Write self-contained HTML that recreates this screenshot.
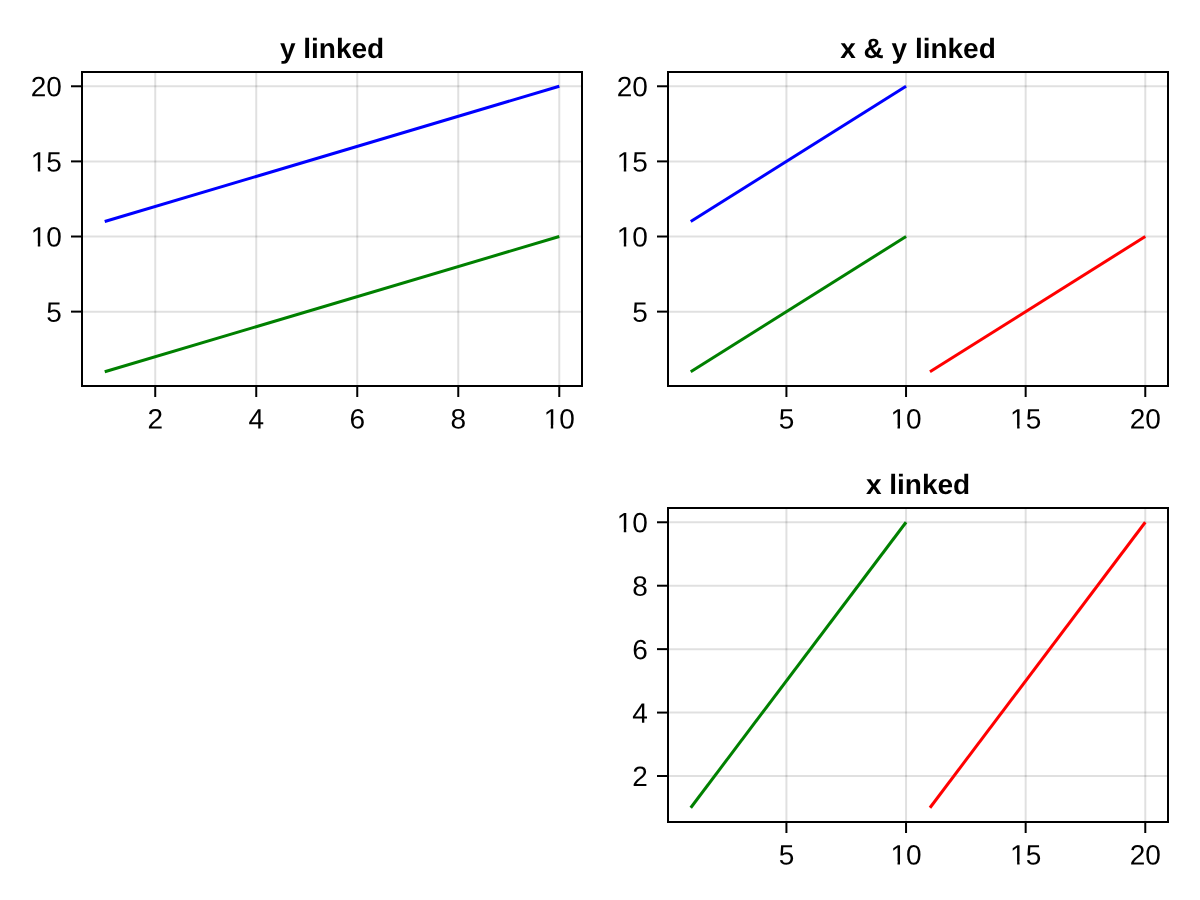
<!DOCTYPE html>
<html lang="en">
<head>
<meta charset="utf-8">
<title>Linked axes</title>
<style>
html,body{margin:0;padding:0;background:#fff;}
body{width:1200px;height:900px;overflow:hidden;}
svg{display:block;will-change:transform;}
.g{stroke:#000;stroke-opacity:0.12;stroke-width:2;}
.t{stroke:#000;stroke-width:2;}
.s{fill:none;stroke:#000;stroke-width:2;}
.l{font-family:"Liberation Sans", sans-serif;font-size:28px;fill:#000;text-rendering:geometricPrecision;}
.ti{font-family:"Liberation Sans", sans-serif;font-size:28px;font-weight:bold;fill:#000;text-rendering:geometricPrecision;}
</style>
</head>
<body>
<svg width="1200" height="900" viewBox="0 0 1200 900">
<defs>
<clipPath id="c1e" clipPathUnits="userSpaceOnUse"><path clip-rule="evenodd" d="M-60 -40H60V20H-60Z M-30.871 -3.092H-24.104V1.5H-30.871Z M-21.629 -3.092H-16.242V1.5H-21.629Z"/></clipPath>
<clipPath id="c1m" clipPathUnits="userSpaceOnUse"><path clip-rule="evenodd" d="M-60 -40H60V20H-60Z M-15.299 -3.092H-8.531V1.5H-15.299Z M-6.057 -3.092H-0.67V1.5H-6.057Z"/></clipPath>
</defs>
<rect x="0" y="0" width="1200" height="900" fill="#ffffff"/>
<g id="axis-y-linked">
<line x1="155.23" y1="72" x2="155.23" y2="386" class="g"/>
<line x1="256.24" y1="72" x2="256.24" y2="386" class="g"/>
<line x1="357.25" y1="72" x2="357.25" y2="386" class="g"/>
<line x1="458.26" y1="72" x2="458.26" y2="386" class="g"/>
<line x1="559.27" y1="72" x2="559.27" y2="386" class="g"/>
<line x1="82" y1="311.63" x2="582" y2="311.63" class="g"/>
<line x1="82" y1="236.51" x2="582" y2="236.51" class="g"/>
<line x1="82" y1="161.39" x2="582" y2="161.39" class="g"/>
<line x1="82" y1="86.27" x2="582" y2="86.27" class="g"/>
<line x1="104.73" y1="371.73" x2="559.27" y2="236.51" stroke="#008000" stroke-width="3"/>
<line x1="104.73" y1="221.49" x2="559.27" y2="86.27" stroke="#0000ff" stroke-width="3"/>
<line x1="155.23" y1="386" x2="155.23" y2="397" class="t"/>
<text transform="translate(155.23 428.45) rotate(0.05)" class="l" text-anchor="middle">2</text>
<line x1="256.24" y1="386" x2="256.24" y2="397" class="t"/>
<text transform="translate(256.24 428.45) rotate(0.05)" class="l" text-anchor="middle">4</text>
<line x1="357.25" y1="386" x2="357.25" y2="397" class="t"/>
<text transform="translate(357.25 428.45) rotate(0.05)" class="l" text-anchor="middle">6</text>
<line x1="458.26" y1="386" x2="458.26" y2="397" class="t"/>
<text transform="translate(458.26 428.45) rotate(0.05)" class="l" text-anchor="middle">8</text>
<line x1="559.27" y1="386" x2="559.27" y2="397" class="t"/>
<text transform="translate(559.27 428.45) rotate(0.05)" class="l" text-anchor="middle" clip-path="url(#c1m)">10</text>
<line x1="71" y1="311.63" x2="82" y2="311.63" class="t"/>
<text transform="translate(61.9 321.73) rotate(0.05)" class="l" text-anchor="end">5</text>
<line x1="71" y1="236.51" x2="82" y2="236.51" class="t"/>
<text transform="translate(61.9 246.61) rotate(0.05)" class="l" text-anchor="end" clip-path="url(#c1e)">10</text>
<line x1="71" y1="161.39" x2="82" y2="161.39" class="t"/>
<text transform="translate(61.9 171.49) rotate(0.05)" class="l" text-anchor="end" clip-path="url(#c1e)">15</text>
<line x1="71" y1="86.27" x2="82" y2="86.27" class="t"/>
<text transform="translate(61.9 96.37) rotate(0.05)" class="l" text-anchor="end">20</text>
<rect x="82" y="72" width="500" height="314" class="s"/>
<text transform="translate(332 58) rotate(0.05)" class="ti" text-anchor="middle">y linked</text>
</g>
<g id="axis-xy-linked">
<line x1="786.42" y1="72" x2="786.42" y2="386" class="g"/>
<line x1="906.04" y1="72" x2="906.04" y2="386" class="g"/>
<line x1="1025.66" y1="72" x2="1025.66" y2="386" class="g"/>
<line x1="1145.27" y1="72" x2="1145.27" y2="386" class="g"/>
<line x1="668" y1="311.63" x2="1168" y2="311.63" class="g"/>
<line x1="668" y1="236.51" x2="1168" y2="236.51" class="g"/>
<line x1="668" y1="161.39" x2="1168" y2="161.39" class="g"/>
<line x1="668" y1="86.27" x2="1168" y2="86.27" class="g"/>
<line x1="690.73" y1="371.73" x2="906.04" y2="236.51" stroke="#008000" stroke-width="3"/>
<line x1="690.73" y1="221.49" x2="906.04" y2="86.27" stroke="#0000ff" stroke-width="3"/>
<line x1="929.96" y1="371.73" x2="1145.27" y2="236.51" stroke="#ff0000" stroke-width="3"/>
<line x1="786.42" y1="386" x2="786.42" y2="397" class="t"/>
<text transform="translate(786.42 428.45) rotate(0.05)" class="l" text-anchor="middle">5</text>
<line x1="906.04" y1="386" x2="906.04" y2="397" class="t"/>
<text transform="translate(906.04 428.45) rotate(0.05)" class="l" text-anchor="middle" clip-path="url(#c1m)">10</text>
<line x1="1025.66" y1="386" x2="1025.66" y2="397" class="t"/>
<text transform="translate(1025.66 428.45) rotate(0.05)" class="l" text-anchor="middle" clip-path="url(#c1m)">15</text>
<line x1="1145.27" y1="386" x2="1145.27" y2="397" class="t"/>
<text transform="translate(1145.27 428.45) rotate(0.05)" class="l" text-anchor="middle">20</text>
<line x1="657" y1="311.63" x2="668" y2="311.63" class="t"/>
<text transform="translate(647.9 321.73) rotate(0.05)" class="l" text-anchor="end">5</text>
<line x1="657" y1="236.51" x2="668" y2="236.51" class="t"/>
<text transform="translate(647.9 246.61) rotate(0.05)" class="l" text-anchor="end" clip-path="url(#c1e)">10</text>
<line x1="657" y1="161.39" x2="668" y2="161.39" class="t"/>
<text transform="translate(647.9 171.49) rotate(0.05)" class="l" text-anchor="end" clip-path="url(#c1e)">15</text>
<line x1="657" y1="86.27" x2="668" y2="86.27" class="t"/>
<text transform="translate(647.9 96.37) rotate(0.05)" class="l" text-anchor="end">20</text>
<rect x="668" y="72" width="500" height="314" class="s"/>
<text transform="translate(918 58) rotate(0.05)" class="ti" text-anchor="middle">x &amp; y linked</text>
</g>
<g id="axis-x-linked">
<line x1="786.42" y1="508" x2="786.42" y2="822" class="g"/>
<line x1="906.04" y1="508" x2="906.04" y2="822" class="g"/>
<line x1="1025.66" y1="508" x2="1025.66" y2="822" class="g"/>
<line x1="1145.27" y1="508" x2="1145.27" y2="822" class="g"/>
<line x1="668" y1="776.01" x2="1168" y2="776.01" class="g"/>
<line x1="668" y1="712.58" x2="1168" y2="712.58" class="g"/>
<line x1="668" y1="649.14" x2="1168" y2="649.14" class="g"/>
<line x1="668" y1="585.71" x2="1168" y2="585.71" class="g"/>
<line x1="668" y1="522.27" x2="1168" y2="522.27" class="g"/>
<line x1="690.73" y1="807.73" x2="906.04" y2="522.27" stroke="#008000" stroke-width="3"/>
<line x1="929.96" y1="807.73" x2="1145.27" y2="522.27" stroke="#ff0000" stroke-width="3"/>
<line x1="786.42" y1="822" x2="786.42" y2="833" class="t"/>
<text transform="translate(786.42 864.45) rotate(0.05)" class="l" text-anchor="middle">5</text>
<line x1="906.04" y1="822" x2="906.04" y2="833" class="t"/>
<text transform="translate(906.04 864.45) rotate(0.05)" class="l" text-anchor="middle" clip-path="url(#c1m)">10</text>
<line x1="1025.66" y1="822" x2="1025.66" y2="833" class="t"/>
<text transform="translate(1025.66 864.45) rotate(0.05)" class="l" text-anchor="middle" clip-path="url(#c1m)">15</text>
<line x1="1145.27" y1="822" x2="1145.27" y2="833" class="t"/>
<text transform="translate(1145.27 864.45) rotate(0.05)" class="l" text-anchor="middle">20</text>
<line x1="657" y1="776.01" x2="668" y2="776.01" class="t"/>
<text transform="translate(647.9 786.11) rotate(0.05)" class="l" text-anchor="end">2</text>
<line x1="657" y1="712.58" x2="668" y2="712.58" class="t"/>
<text transform="translate(647.9 722.68) rotate(0.05)" class="l" text-anchor="end">4</text>
<line x1="657" y1="649.14" x2="668" y2="649.14" class="t"/>
<text transform="translate(647.9 659.24) rotate(0.05)" class="l" text-anchor="end">6</text>
<line x1="657" y1="585.71" x2="668" y2="585.71" class="t"/>
<text transform="translate(647.9 595.81) rotate(0.05)" class="l" text-anchor="end">8</text>
<line x1="657" y1="522.27" x2="668" y2="522.27" class="t"/>
<text transform="translate(647.9 532.37) rotate(0.05)" class="l" text-anchor="end" clip-path="url(#c1e)">10</text>
<rect x="668" y="508" width="500" height="314" class="s"/>
<text transform="translate(918 494) rotate(0.05)" class="ti" text-anchor="middle">x linked</text>
</g>
</svg>
</body>
</html>
